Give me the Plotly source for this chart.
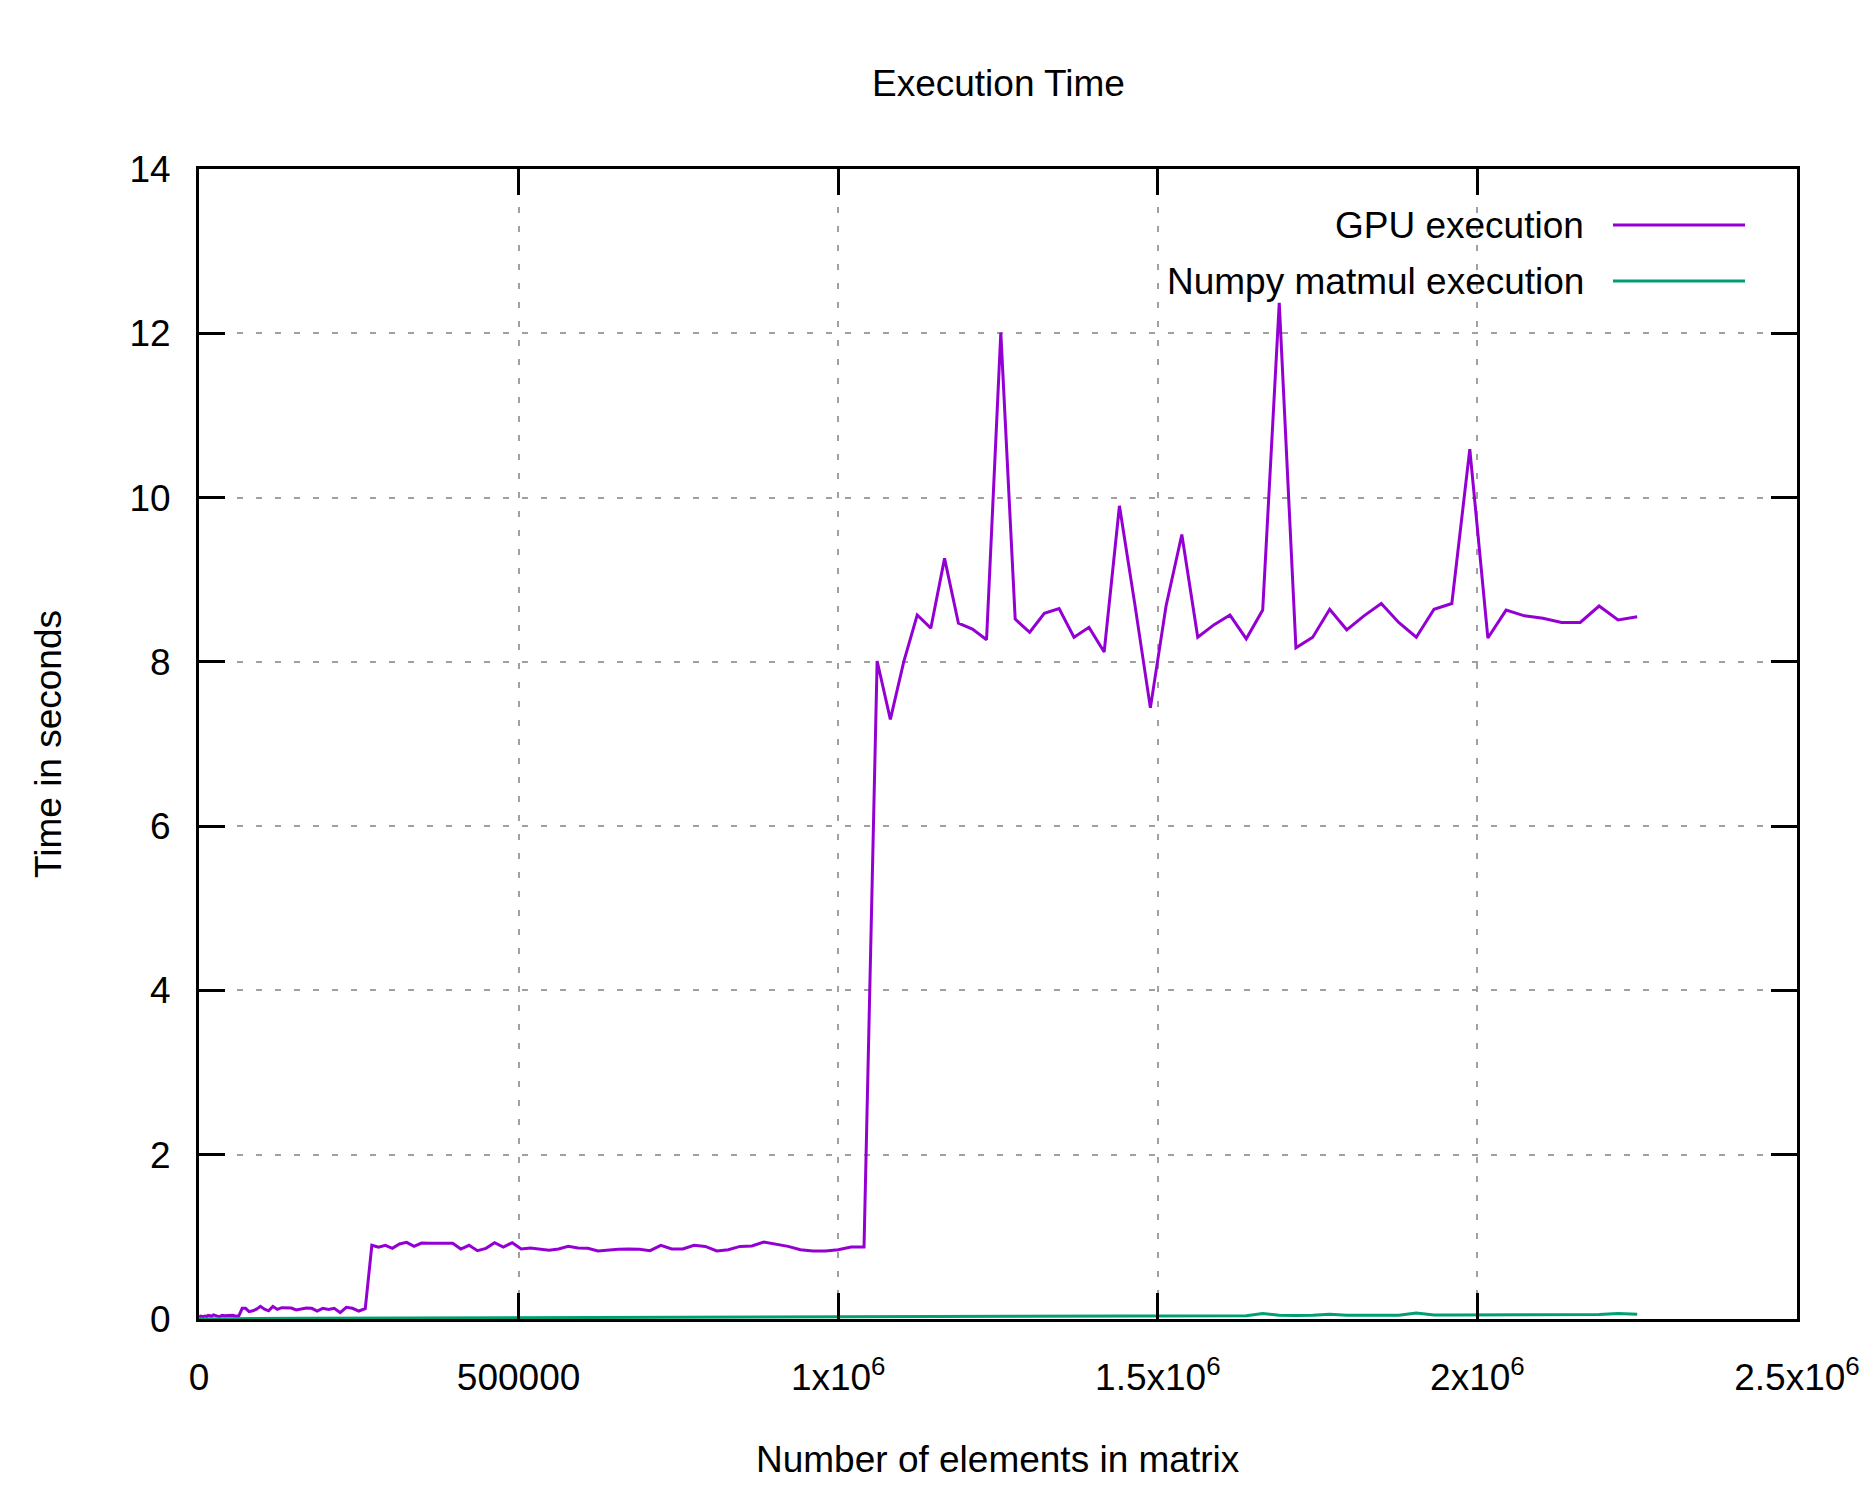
import plotly.graph_objects as go

# Matrix side lengths n (matrix has n*n elements)
sizes = list(range(10, 1510, 10))
elements = [n * n for n in sizes]

gpu_time = [
    0.02, 0.025, 0.03, 0.03, 0.035, 0.03, 0.03, 0.03, 0.033, 0.035,
    0.03, 0.045, 0.04, 0.035, 0.05, 0.04, 0.035, 0.03, 0.045, 0.04,
    0.04, 0.04, 0.045, 0.035, 0.04,
    0.13, 0.13, 0.09, 0.10, 0.12, 0.154, 0.12, 0.10, 0.154, 0.117,
    0.138, 0.134, 0.134, 0.11, 0.125, 0.134, 0.13, 0.097, 0.13, 0.117,
    0.13, 0.077, 0.142, 0.13, 0.097, 0.125,
    0.897, 0.873, 0.897, 0.860, 0.913, 0.933, 0.884, 0.925, 0.921, 0.921,
    0.913, 0.921, 0.852, 0.897, 0.832, 0.860, 0.929, 0.876, 0.929, 0.852,
    0.864, 0.848, 0.836, 0.852, 0.884, 0.864, 0.860, 0.828, 0.840, 0.848,
    0.852, 0.848, 0.832, 0.897, 0.852, 0.852, 0.897, 0.884, 0.828, 0.844,
    0.884, 0.889, 0.937, 0.913, 0.884, 0.844, 0.828, 0.828, 0.844, 0.876, 0.876,
    8.01, 7.30, 8.00, 8.57, 8.41, 9.26, 8.47, 8.40, 8.27, 12.01,
    8.52, 8.36, 8.59, 8.65, 8.30, 8.42, 8.12, 9.90, 8.70, 7.44,
    8.68, 9.55, 8.30, 8.45, 8.57, 8.28, 8.63, 12.37, 8.17, 8.30,
    8.64, 8.39, 8.56, 8.71, 8.48, 8.30, 8.64, 8.71, 10.59, 8.29,
    8.63, 8.56, 8.53, 8.48, 8.48, 8.68, 8.51, 8.55,
]

numpy_time = [
    0.0001, 0.0001, 0.0002, 0.0002, 0.0004, 0.0005, 0.0005, 0.0007, 0.0009, 0.001,
    0.0011, 0.0013, 0.0012, 0.0016, 0.0019, 0.002, 0.0021, 0.0025, 0.0026, 0.0029,
    0.003, 0.0034, 0.0035, 0.004, 0.0041, 0.0046, 0.0047, 0.0051, 0.0053, 0.0057,
    0.006, 0.0062, 0.0068, 0.007, 0.0072, 0.0078, 0.008, 0.0082, 0.0088, 0.009,
    0.0094, 0.0095, 0.0101, 0.0104, 0.0105, 0.0112, 0.0113, 0.0117, 0.0119, 0.0125,
    0.0127, 0.013, 0.0134, 0.0135, 0.0141, 0.0142, 0.0148, 0.015, 0.0152, 0.0158,
    0.016, 0.0162, 0.0168, 0.017, 0.0172, 0.0178, 0.018, 0.0183, 0.0187, 0.019,
    0.0194, 0.0196, 0.02, 0.0203, 0.0206, 0.021, 0.0214, 0.0216, 0.022, 0.0224,
    0.0227, 0.023, 0.0234, 0.0238, 0.024, 0.0244, 0.0248, 0.025, 0.0255, 0.0258,
    0.026, 0.0265, 0.0268, 0.027, 0.0275, 0.0278, 0.028, 0.0285, 0.0288, 0.029,
    0.0295, 0.0298, 0.030, 0.0305, 0.0308, 0.031, 0.0315, 0.0318, 0.032, 0.0325,
    0.033, 0.0332, 0.0336, 0.034, 0.0345, 0.0348, 0.035, 0.0355, 0.0358, 0.036,
    0.0365, 0.037, 0.0372, 0.0378, 0.038, 0.0385, 0.039, 0.0395, 0.066, 0.045,
    0.044, 0.045, 0.057, 0.046, 0.046, 0.047, 0.047, 0.074, 0.05, 0.05,
    0.05, 0.051, 0.051, 0.052, 0.052, 0.053, 0.054, 0.055, 0.068, 0.058,
]

x_tickvals = [0, 500000, 1000000, 1500000, 2000000, 2500000]
x_ticktext = ["0", "500000", "1x10<sup>6</sup>", "1.5x10<sup>6</sup>",
              "2x10<sup>6</sup>", "2.5x10<sup>6</sup>"]
y_tickvals = [0, 2, 4, 6, 8, 10, 12, 14]

series_names = ["GPU execution", "Numpy matmul execution"]
series_colors = ["#9400d3", "#009e73"]

FONT = "Liberation Sans, Arial, Helvetica, sans-serif"
FS = 37

fig = go.Figure()
fig.add_trace(go.Scatter(x=elements, y=gpu_time, mode="lines", name=series_names[0],
                         line=dict(color=series_colors[0], width=3)))
fig.add_trace(go.Scatter(x=elements, y=numpy_time, mode="lines", name=series_names[1],
                         line=dict(color=series_colors[1], width=3)))

L, R, T, B = 199, 78, 169, 181
W, H = 1875, 1500
pw, ph = W - L - R, H - T - B

def px_x(px):
    return (px - L) / pw

def px_y(py):
    return (H - B - py) / ph

fig.update_layout(
    width=W, height=H,
    margin=dict(l=L, r=R, t=T, b=B, autoexpand=False),
    paper_bgcolor="white", plot_bgcolor="white",
    showlegend=False,
    font=dict(family=FONT, size=FS, color="black"),
)

axis_common = dict(
    ticks="inside", ticklen=26, tickwidth=3, tickcolor="black",
    showline=True, linecolor="black", linewidth=3, mirror="ticks",
    showgrid=True, gridcolor="#a0a0a0", gridwidth=2, griddash="6px,13px",
    zeroline=False, tickfont=dict(family=FONT, size=FS, color="black"),
)

fig.update_xaxes(range=[0, 2500000], tickmode="array", tickvals=x_tickvals,
                 ticktext=x_ticktext, ticklabelstandoff=24, **axis_common)
fig.update_yaxes(range=[0, 14], tickmode="array", tickvals=y_tickvals,
                 ticklabelstandoff=18, **axis_common)

ann = []
ann.append(dict(text="Execution Time", x=0.5, y=px_y(84), xref="paper", yref="paper",
                xanchor="center", yanchor="middle", showarrow=False,
                font=dict(family=FONT, size=FS)))
ann.append(dict(text="Number of elements in matrix", x=0.5, y=px_y(1459), xref="paper",
                yref="paper", xanchor="center", yanchor="middle", showarrow=False,
                font=dict(family=FONT, size=FS)))
ann.append(dict(text="Time in seconds", x=px_x(48), y=0.5, xref="paper", yref="paper",
                xanchor="center", yanchor="middle", textangle=-90, showarrow=False,
                font=dict(family=FONT, size=FS)))

legend_rows = [225, 281]
shapes = []
for name, color, py in zip(series_names, series_colors, legend_rows):
    ann.append(dict(text=name, x=px_x(1586), y=px_y(py), xref="paper", yref="paper",
                    xanchor="right", yanchor="middle", showarrow=False,
                    font=dict(family=FONT, size=FS)))
    shapes.append(dict(type="line", xref="paper", yref="paper",
                       x0=px_x(1613), x1=px_x(1745), y0=px_y(py), y1=px_y(py),
                       line=dict(color=color, width=3)))

fig.update_layout(annotations=ann, shapes=shapes)

fig.write_html("out.html")
